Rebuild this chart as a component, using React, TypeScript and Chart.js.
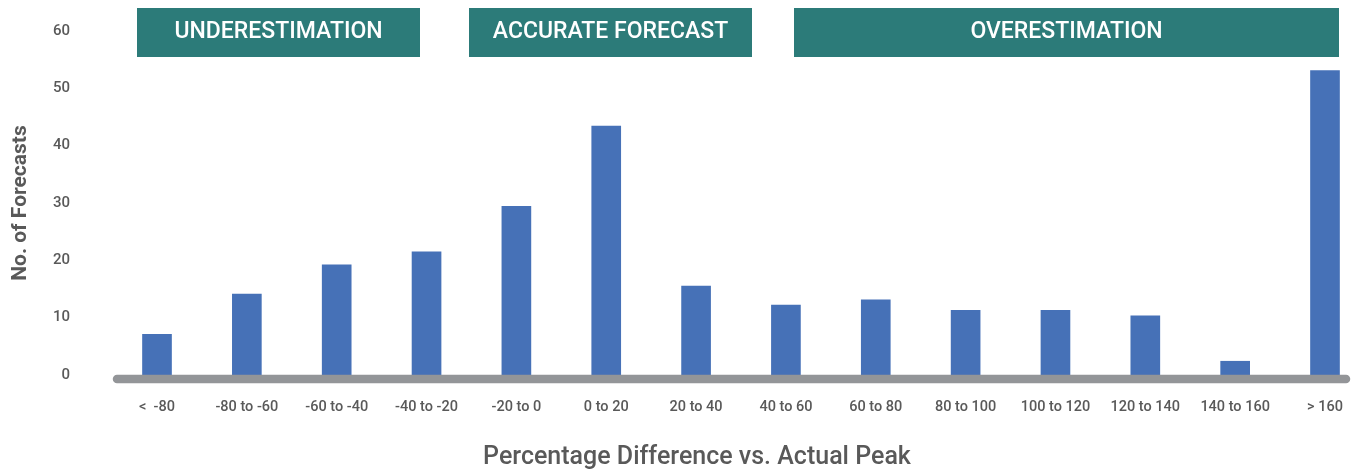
import React, { useEffect, useRef } from "react";
import { Chart, registerables } from "chart.js";

Chart.register(...registerables);

// Forecast error buckets (percentage difference vs. actual peak)
const categories = [
  "<  -80",
  "-80 to -60",
  "-60 to -40",
  "-40 to -20",
  "-20 to 0",
  "0 to 20",
  "20 to 40",
  "40 to 60",
  "60 to 80",
  "80 to 100",
  "100 to 120",
  "120 to 140",
  "140 to 160",
  "> 160",
];

// Number of forecasts falling in each bucket
const forecastCounts = [7.1, 14.1, 19.2, 21.5, 29.4, 43.4, 15.5, 12.2, 13.1, 11.3, 11.3, 10.3, 2.4, 53.1];

// Value axis
const yMin = 0;
const yMax = 60;
const yStep = 10;

// Header bands above the plot
const bandLabels = ["UNDERESTIMATION", "ACCURATE FORECAST", "OVERESTIMATION"];

// Layout of the header bands (left / right edges in pixels)
const bandLayout = [
  [137, 420],
  [469, 752],
  [794, 1339],
];

const xTitle = "Percentage Difference vs. Actual Peak";
const yTitle = "No. of Forecasts";

const FONT = "Roboto, 'Noto Sans', sans-serif";
const TEXT_GREY = "#595959";
const BAR_BLUE = "#4671B7";
const BAND_TEAL = "#2C7B79";
const AXIS_GREY = "#939598";

const decorations = {
  id: "decorations",
  afterDatasetsDraw(chart: any) {
    const { ctx } = chart;
    const y0 = chart.scales.y.getPixelForValue(0);
    ctx.save();

    // thick rounded baseline
    ctx.strokeStyle = AXIS_GREY;
    ctx.lineWidth = 8.5;
    ctx.lineCap = "round";
    ctx.beginPath();
    ctx.moveTo(117, y0 + 4);
    ctx.lineTo(1346, y0 + 4);
    ctx.stroke();

    // header bands
    ctx.font = `500 23px ${FONT}`;
    ctx.textAlign = "center";
    ctx.textBaseline = "middle";
    bandLabels.forEach((label, i) => {
      const [x0, x1] = bandLayout[i];
      ctx.fillStyle = BAND_TEAL;
      ctx.fillRect(x0, 8, x1 - x0, 49);
      ctx.fillStyle = "#FFFFFF";
      ctx.fillText(label, (x0 + x1) / 2, 32);
    });

    // horizontal axis title
    ctx.fillStyle = TEXT_GREY;
    ctx.font = `500 25px ${FONT}`;
    ctx.fillText(xTitle, 697, 458);

    ctx.restore();
  },
};

export default function App() {
  const canvasRef = useRef<HTMLCanvasElement | null>(null);

  useEffect(() => {
    if (!canvasRef.current) return;
    const chart = new Chart(canvasRef.current, {
      type: "bar",
      data: {
        labels: categories,
        datasets: [
          {
            data: forecastCounts,
            backgroundColor: BAR_BLUE,
            borderWidth: 0,
            barThickness: 29,
            clip: false as any,
          },
        ],
      },
      options: {
        responsive: false,
        animation: false,
        devicePixelRatio: 1,
        layout: { padding: { top: 31, right: 26, left: 0, bottom: 0 } },
        plugins: {
          legend: { display: false },
          tooltip: { enabled: false },
        },
        scales: {
          x: {
            offset: false,
            grid: { display: false, drawTicks: false },
            border: { display: false },
            ticks: {
              autoSkip: false,
              maxRotation: 0,
              padding: 24,
              color: TEXT_GREY,
              font: { family: FONT, size: 14.5, weight: "500" as any },
            },
            afterFit: (scale: any) => {
              scale.height = 95;
              scale.paddingLeft = 0;
              scale.paddingRight = 0;
            },
          },
          y: {
            min: yMin,
            max: yMax,
            grid: { display: false, drawTicks: false },
            border: { display: false },
            ticks: {
              stepSize: yStep,
              padding: 87,
              color: TEXT_GREY,
              font: { family: FONT, size: 15, weight: "500" as any },
            },
            title: {
              display: true,
              text: yTitle,
              color: TEXT_GREY,
              padding: { top: 8, bottom: 0 },
              font: { family: FONT, size: 21, weight: "bold" },
            },
            afterFit: (scale: any) => {
              scale.width = 157;
              scale.paddingTop = 0;
              scale.paddingBottom = 0;
            },
          },
        },
      },
      plugins: [decorations],
    });
    return () => chart.destroy();
  }, []);

  return (
    <div style={{ position: "fixed", left: 0, top: 0, width: 1351, height: 470, background: "#FFFFFF" }}>
      <canvas ref={canvasRef} width={1351} height={470} style={{ display: "block" }} />
    </div>
  );
}
